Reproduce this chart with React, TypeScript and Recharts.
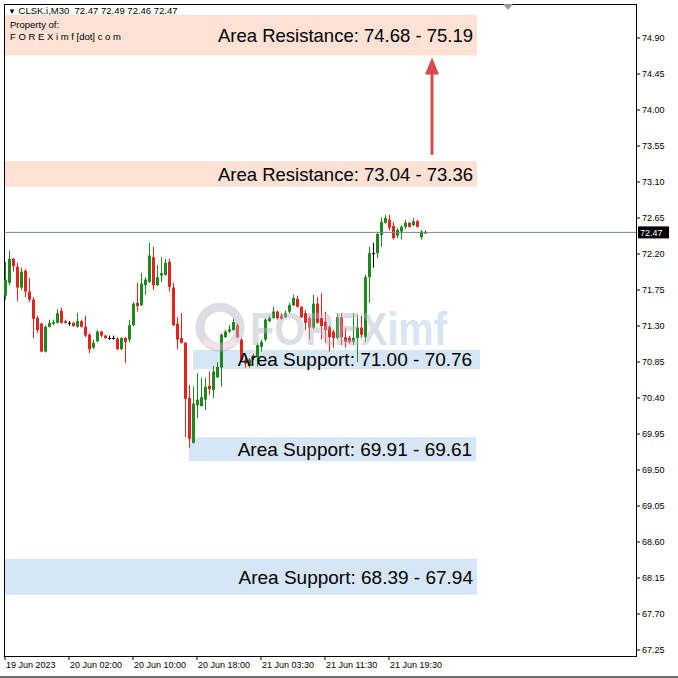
import {
  Bar,
  ComposedChart,
  ReferenceArea,
  ReferenceDot,
  ReferenceLine,
  XAxis,
  YAxis,
} from "recharts";

// CLSK.i M30 candles (bar 0 = 19 Jun 2023)
const OPEN = [
  71.68, 71.84, 72.14, 72.04, 71.78, 71.99, 71.73, 71.63, 71.4, 71.33,
  70.98, 71.29, 71.33, 71.34, 71.49, 71.36, 71.34, 71.34, 71.29, 71.36,
  71.29, 71.19, 71.03, 71.11, 71.23, 71.18, 71.15, 71.15, 71.14, 71.01,
  71.15, 71.13, 71.31, 71.59, 71.56, 71.81, 71.85, 72.16, 71.81, 71.93,
  71.94, 72.1, 71.78, 71.33, 71.15, 71.09, 70.4, 69.84, 70.31, 70.3,
  70.38, 70.55, 70.5, 70.66, 70.78, 71.16, 71.23, 71.25, 71.31, 71.13,
  70.88, 70.8, 70.93, 70.91, 71.04, 71.13, 71.36, 71.4, 71.48, 71.43,
  71.41, 71.48, 71.56, 71.64, 71.54, 71.46, 71.4, 71.28, 71.58, 71.4,
  71.35, 71.29, 71.23, 71.15, 71.41, 71.16, 71.15, 71.1, 71.15, 71.28,
  71.16, 71.91, 72.21, 72.21, 72.44, 72.59, 72.63, 72.55, 72.43, 72.48,
  72.54, 72.59, 72.56, 72.61, 72.41, 72.47,
];
const HIGH = [
  72.1, 72.24, 72.15, 72.09, 72.03, 72.01, 71.9, 71.66, 71.43, 71.34,
  71.31, 71.38, 71.38, 71.51, 71.53, 71.38, 71.36, 71.35, 71.46, 71.38,
  71.43, 71.21, 71.13, 71.25, 71.24, 71.19, 71.18, 71.18, 71.16, 71.16,
  71.16, 71.38, 71.6, 71.84, 71.96, 71.91, 72.34, 72.29, 72.06, 72.16,
  72.14, 72.14, 71.84, 71.41, 71.46, 71.1, 70.56, 70.54, 70.71, 70.65,
  70.65, 70.73, 70.8, 70.85, 71.21, 71.25, 71.31, 71.39, 71.33, 71.15,
  70.91, 70.9, 70.95, 71.09, 71.13, 71.4, 71.43, 71.54, 71.49, 71.46,
  71.49, 71.59, 71.69, 71.68, 71.55, 71.5, 71.43, 71.69, 71.66, 71.71,
  71.48, 71.31, 71.25, 71.46, 71.46, 71.28, 71.18, 71.46, 71.44, 71.43,
  71.94, 72.29, 72.34, 72.48, 72.66, 72.69, 72.69, 72.6, 72.53, 72.56,
  72.63, 72.6, 72.65, 72.63, 72.5, 72.49,
];
const LOW = [
  71.63, 71.81, 71.98, 71.61, 71.75, 71.66, 71.6, 71.15, 71.21, 70.97,
  70.97, 71.28, 71.31, 71.33, 71.33, 71.33, 71.3, 71.29, 71.28, 71.28,
  71.16, 70.96, 71.01, 71.1, 71.16, 71.14, 71.13, 71.13, 71.0, 71.0,
  70.84, 71.1, 71.3, 71.48, 71.55, 71.69, 71.84, 71.75, 71.8, 71.85,
  71.93, 71.73, 71.3, 71.01, 71.08, 69.91, 69.78, 69.83, 70.15, 70.29,
  70.25, 70.44, 70.4, 70.65, 70.54, 71.15, 71.21, 71.24, 71.15, 70.85,
  70.78, 70.78, 70.88, 70.79, 70.98, 71.11, 71.35, 71.39, 71.38, 71.38,
  71.4, 71.46, 71.55, 71.53, 71.4, 71.25, 71.13, 71.26, 71.33, 71.13,
  71.09, 70.98, 71.03, 71.13, 71.06, 71.03, 71.08, 71.06, 70.85, 71.15,
  71.1, 71.59, 72.03, 72.15, 72.29, 72.58, 72.5, 72.38, 72.4, 72.38,
  72.51, 72.53, 72.55, 72.53, 72.38, 72.46,
];
const CLOSE = [
  71.88, 72.14, 72.05, 71.78, 71.98, 71.73, 71.63, 71.39, 71.25, 70.98,
  71.29, 71.34, 71.35, 71.46, 71.34, 71.34, 71.34, 71.3, 71.36, 71.29,
  71.18, 71.01, 71.09, 71.23, 71.18, 71.15, 71.15, 71.15, 71.01, 71.15,
  71.1, 71.31, 71.58, 71.55, 71.83, 71.88, 72.18, 71.81, 71.91, 71.96,
  72.09, 71.79, 71.31, 71.13, 71.09, 70.39, 69.89, 70.33, 70.38, 70.41,
  70.54, 70.51, 70.73, 70.79, 71.19, 71.23, 71.26, 71.35, 71.16, 70.88,
  70.83, 70.88, 70.9, 71.06, 71.1, 71.38, 71.4, 71.48, 71.4, 71.39,
  71.46, 71.56, 71.65, 71.54, 71.41, 71.34, 71.28, 71.58, 71.34, 71.3,
  71.25, 71.16, 71.15, 71.41, 71.16, 71.1, 71.1, 71.15, 71.28, 71.19,
  71.91, 72.21, 72.21, 72.45, 72.6, 72.65, 72.53, 72.4, 72.5, 72.54,
  72.59, 72.54, 72.61, 72.54, 72.48, 72.47,
];

const TIME_TICKS = [0, 16, 32, 48, 64, 80, 96];
const TIME_LABELS = [
  "19 Jun 2023",
  "20 Jun 02:00",
  "20 Jun 10:00",
  "20 Jun 18:00",
  "21 Jun 03:30",
  "21 Jun 11:30",
  "21 Jun 19:30",
];
const PRICE_TICKS = [
  74.9, 74.45, 74.0, 73.55, 73.1, 72.65, 72.2, 71.75, 71.3, 70.85, 70.4,
  69.95, 69.5, 69.05, 68.6, 68.15, 67.7, 67.25,
];
const LAST_PRICE = 72.47;

// zones: price range + bar range (undefined start = left edge of chart)
const ZONE_KIND = ["res", "res", "sup", "sup", "sup"];
const ZONE_LABEL = [
  "Area Resistance: 74.68 - 75.19",
  "Area Resistance: 73.04 - 73.36",
  "Area Support: 71.00 - 70.76",
  "Area Support: 69.91 - 69.61",
  "Area Support: 68.39 - 67.94",
];
const ZONE_LOW = [74.68, 73.04, 70.76, 69.61, 67.94];
const ZONE_HIGH = [75.19, 73.36, 71.0, 69.91, 68.39];
const ZONE_START = [undefined, undefined, 47, 46, undefined];
const ZONE_END = [118, 118, 118.8, 117.8, 118];

// arrow from the upper resistance box toward the top one
const ARROW_BAR = 106.75;
const ARROW_FROM = 73.44;
const ARROW_TO = 74.63;

const X_DOMAIN: [number, number] = [-0.25, 157.75];
const Y_DOMAIN: [number, number] = [67.175, 75.325];

const GREEN = "#1f871f";
const RED = "#e2231f";
const FONT = "'Liberation Sans', Arial, sans-serif";

const candles = OPEN.map((o, i) => ({
  i,
  open: o,
  high: HIGH[i],
  low: LOW[i],
  close: CLOSE[i],
}));

const zones = ZONE_LABEL.map((label, k) => ({
  label,
  kind: ZONE_KIND[k],
  y1: ZONE_LOW[k],
  y2: ZONE_HIGH[k],
  x1: ZONE_START[k],
  x2: ZONE_END[k],
}));

function Candle(props: any) {
  const { x, y, width, height, payload } = props;
  const { open, close, high, low } = payload;
  const k = high > low ? height / (high - low) : 0;
  const yOf = (v: number) => y + (high - v) * k;
  const color = close > open ? GREEN : close < open ? RED : "#000";
  const cx = Math.round(x + width / 2) + 0.5;
  const top = yOf(Math.max(open, close));
  const bot = yOf(Math.min(open, close));
  return (
    <g>
      <line x1={cx} x2={cx} y1={y} y2={y + height} stroke={color} strokeWidth={1} />
      <rect
        x={cx - 1.5}
        y={top}
        width={3}
        height={Math.max(bot - top, 1)}
        fill={color}
      />
    </g>
  );
}

function TimeTick(props: any) {
  const { x, y, payload } = props;
  const label = TIME_LABELS[TIME_TICKS.indexOf(payload.value)];
  return (
    <text x={x + 1} y={y} dy="0.71em" fontSize={9} fontFamily={FONT} fill="#000">
      {label}
    </text>
  );
}

function PriceTag(props: any) {
  const { viewBox } = props;
  const right = viewBox.x + viewBox.width;
  return (
    <g>
      <rect x={right + 2} y={viewBox.y - 6} width={31} height={12} fill="#000" />
      <text
        x={right + 4}
        y={viewBox.y + 3.5}
        fontSize={9}
        fontFamily={FONT}
        fill="#fff"
      >
        {LAST_PRICE.toFixed(2)}
      </text>
    </g>
  );
}

function Arrow(props: any) {
  const { x1, y1, x2, y2 } = props;
  const tipY = Math.min(y1, y2);
  const baseY = Math.max(y1, y2);
  const x = (x1 + x2) / 2;
  return (
    <g>
      <line x1={x} x2={x} y1={baseY} y2={tipY + 14} stroke="#d9484a" strokeWidth={3} />
      <polygon
        points={`${x},${tipY - 2} ${x - 7},${tipY + 15} ${x + 7},${tipY + 15}`}
        fill="#d9484a"
      />
    </g>
  );
}

function Watermark(props: any) {
  const { cx, cy } = props;
  return (
    <g opacity={0.45}>
      <circle cx={cx - 30} cy={cy - 18} r={20} fill="none" stroke="#b3b3c2" strokeWidth={9} />
      <path
        d={`M ${cx - 46} ${cy - 4} Q ${cx - 30} ${cy + 6} ${cx - 14} ${cy - 4}`}
        fill="none"
        stroke="#e8c0c8"
        strokeWidth={6}
      />
      <text
        x={cx}
        y={cy}
        fontSize={46}
        fontWeight="bold"
        fontFamily={FONT}
        textLength={197}
        lengthAdjust="spacingAndGlyphs"
        fill="#b6b6c4"
      >
        FOREX<tspan fill="#a9c6e4">imf</tspan>
      </text>
    </g>
  );
}

export default function App() {
  return (
    <div
      style={{
        position: "absolute",
        left: 0,
        top: 0,
        width: 678,
        height: 678,
        background: "#fff",
        fontFamily: FONT,
        overflow: "hidden",
      }}
    >
      <ComposedChart
        width={678}
        height={678}
        data={candles}
        margin={{ top: 4, right: 0, bottom: 0, left: 4 }}
      >
        <XAxis
          dataKey="i"
          type="number"
          domain={X_DOMAIN}
          allowDataOverflow
          ticks={TIME_TICKS}
          interval={0}
          height={22}
          axisLine={false}
          tickLine={{ stroke: "#000" }}
          tickSize={4}
          tickMargin={2}
          tick={<TimeTick />}
        />
        <YAxis
          orientation="right"
          type="number"
          domain={Y_DOMAIN}
          allowDataOverflow
          ticks={PRICE_TICKS}
          interval={0}
          width={42}
          axisLine={false}
          tickLine={{ stroke: "#000" }}
          tickSize={4}
          tickMargin={2}
          tickFormatter={(v: number) => v.toFixed(2)}
          tick={{ fontSize: 9, fill: "#000", fontFamily: FONT }}
        />

        {zones.map((z) => (
          <ReferenceArea
            key={z.label + "-fill"}
            x1={z.x1}
            x2={z.x2}
            y1={z.y1}
            y2={z.y2}
            fill={z.kind === "res" ? "#fde1d4" : "#d6e6f6"}
            fillOpacity={1}
            stroke="none"
          />
        ))}

        <ReferenceDot x={61.25} y={71.06} shape={<Watermark />} />

        <ReferenceLine y={LAST_PRICE} stroke="#76888a" strokeWidth={1} label={<PriceTag />} />

        <Bar
          dataKey={(d: any) => [d.low, d.high]}
          barSize={3}
          shape={<Candle />}
          isAnimationActive={false}
        />

        {zones.map((z) => (
          <ReferenceArea
            key={z.label + "-text"}
            x1={z.x1}
            x2={z.x2}
            y1={z.y1}
            y2={z.y2}
            fill="none"
            stroke="none"
            label={{
              value: z.label,
              position: "insideRight",
              offset: z.kind === "sup" && z.x1 === 47 ? 8 : 4,
              fontSize: z.kind === "res" ? 18.5 : 19,
              fontFamily: FONT,
              fill: "#000",
            }}
          />
        ))}

        <ReferenceLine
          segment={[
            { x: ARROW_BAR, y: ARROW_FROM },
            { x: ARROW_BAR, y: ARROW_TO },
          ]}
          shape={<Arrow />}
        />

        <ReferenceArea
          x1={X_DOMAIN[0]}
          x2={X_DOMAIN[1]}
          y1={Y_DOMAIN[0]}
          y2={Y_DOMAIN[1]}
          fill="none"
          stroke="#000"
          strokeWidth={1}
          shapeRendering="crispEdges"
        />
      </ComposedChart>

      <div
        style={{
          position: "absolute",
          left: 8,
          top: 4,
          fontSize: 9.5,
          lineHeight: "13px",
          color: "#000",
          whiteSpace: "pre",
        }}
      >
        <div>
          <span style={{ fontSize: 8 }}>▼</span> CLSK.i,M30  72.47 72.49 72.46 72.47
        </div>
        <div style={{ paddingLeft: 2 }}>Property of:</div>
        <div style={{ paddingLeft: 2, marginTop: -1 }}>F O R E X i m f [dot] c o m</div>
      </div>
      <div
        style={{
          position: "absolute",
          left: 503,
          top: 4,
          width: 0,
          height: 0,
          borderLeft: "5px solid transparent",
          borderRight: "5px solid transparent",
          borderTop: "6px solid #9a9a9a",
        }}
      />
      <div
        style={{
          position: "absolute",
          left: 0,
          top: 676,
          width: 678,
          height: 2,
          background: "#6e6e6e",
        }}
      />
    </div>
  );
}
